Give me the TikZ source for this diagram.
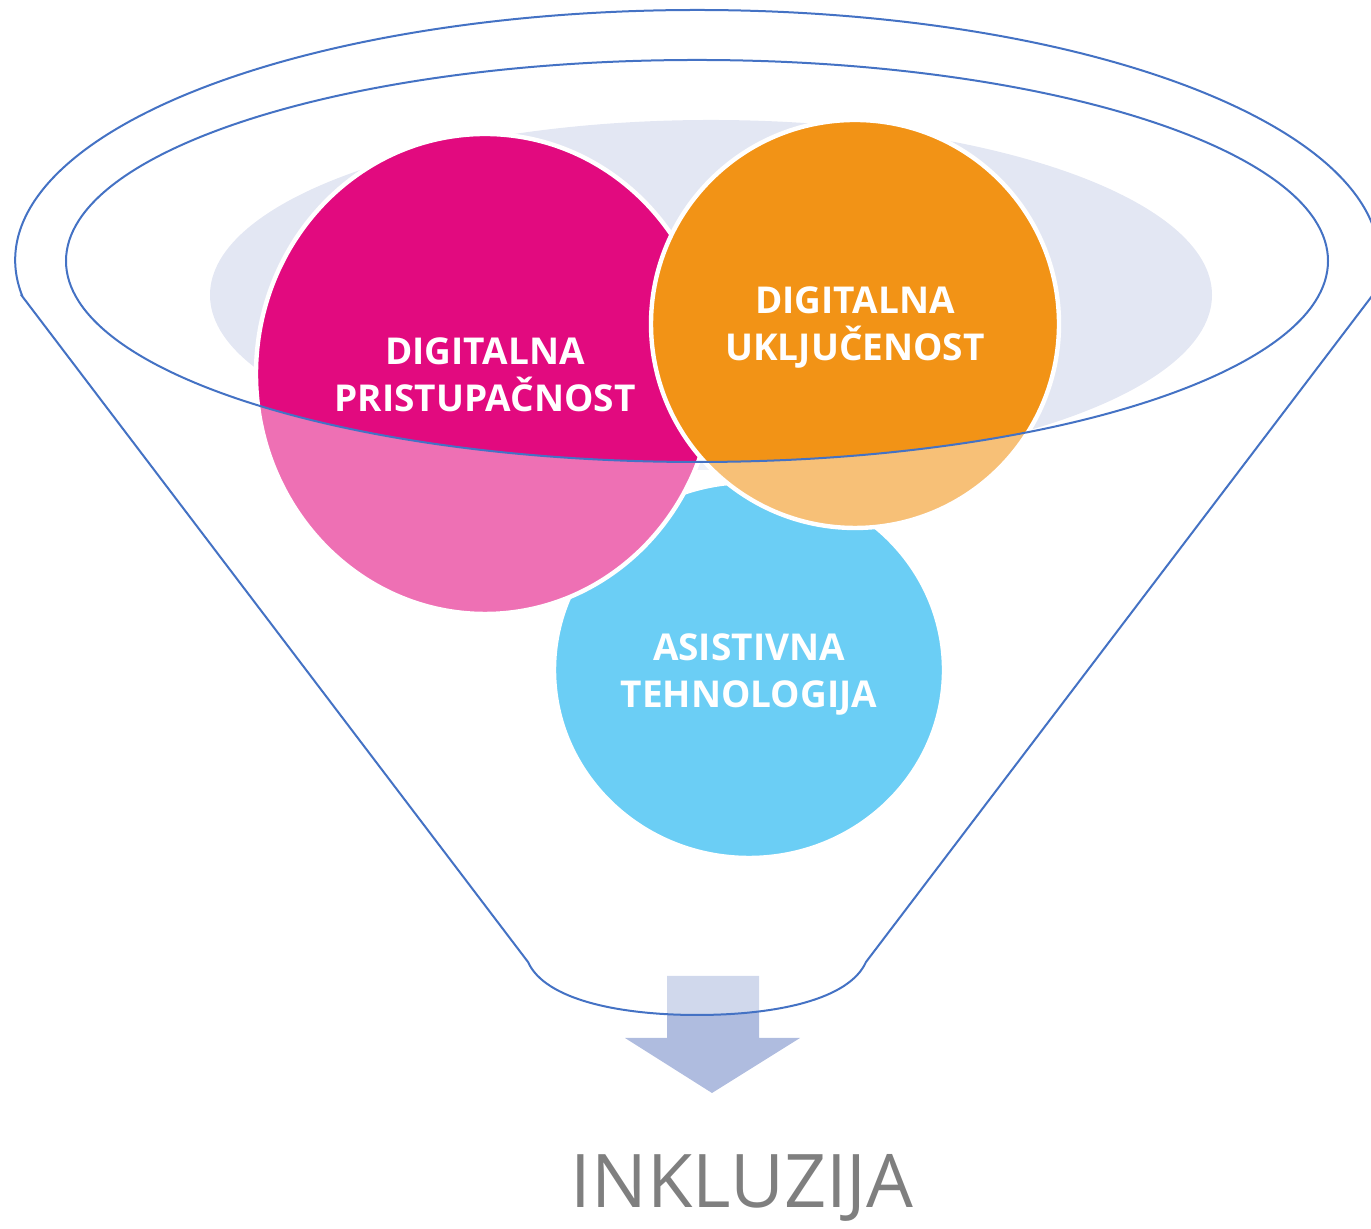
\documentclass[tikz,border=0pt]{standalone}
\usepackage{fontspec}
\setmainfont{Open Sans}
\usetikzlibrary{shapes.geometric}
\definecolor{rim}{HTML}{4472C4}
\definecolor{haze}{HTML}{E3E7F3}
\definecolor{magentafill}{HTML}{E20A7F}
\definecolor{orangefill}{HTML}{F29316}
\definecolor{skyfill}{HTML}{00ABEE}
\definecolor{arrowfill}{HTML}{AFBCDF}
\definecolor{caption}{HTML}{7F7F7F}
\begin{document}
\begin{tikzpicture}[x=0.5pt,y=0.5pt,
  bubble/.style={ellipse, inner sep=0pt, draw=white, line width=2.2pt},
  bubbletext/.style={inner sep=0pt, text=white, align=center,
    font=\bfseries\fontsize{18.5}{23.5}\selectfont},
  funnelline/.style={draw=rim, line width=1pt},
  veil/.style={fill=white, fill opacity=0.42, even odd rule}
]
\useasboundingbox (0,0) rectangle (1371,1229);
\clip (0,0) rectangle (1371,1229);

% soft backdrop behind the bubbles
\fill[haze] (711,934) ellipse [x radius=501, y radius=175];

% the three bubbles, back to front
\node[bubble, fill=skyfill, minimum width=195pt, minimum height=188pt]
  (asist) at (749,559) {};
\node[bubble, fill=magentafill, minimum width=229pt, minimum height=240pt]
  (pristup) at (485,855) {};
\node[bubble, fill=orangefill, minimum width=204pt, minimum height=204pt]
  (ukljuc) at (855,905) {};

% bubble captions
\node[bubbletext] (asist-t) at ([yshift=-2.5pt]asist.center) {ASISTIVNA\\TEHNOLOGIJA};
\node[bubbletext] (pristup-t) at ([yshift=-0.5pt]pristup.center) {DIGITALNA\\PRISTUPAČNOST};
\node[bubbletext] (ukljuc-t) at ([yshift=-2pt]ukljuc.center) {DIGITALNA\\UKLJUČENOST};

% downward arrow out of the funnel neck
\fill[arrowfill] (667,253) -- (759,253) -- (759,191) -- (800,191)
  -- (712,136) -- (625,191) -- (667,191) -- cycle;

% translucent funnel body (outline minus the mouth)
\path[veil] (22,933) -- (528,267)
  .. controls (545,229) and (620,214) .. (697,214)
  .. controls (775,214) and (849,229) .. (866,267)
  -- (1372,933) arc[start angle=-8.28, end angle=188.28, x radius=682, y radius=250]
  -- cycle
  (697,968) ellipse [x radius=631, y radius=201];

% funnel outlines
\draw[funnelline] (22,933) -- (528,267)
  .. controls (545,229) and (620,214) .. (697,214)
  .. controls (775,214) and (849,229) .. (866,267)
  -- (1372,933) arc[start angle=-8.28, end angle=188.28, x radius=682, y radius=250]
  -- cycle;
\draw[funnelline] (697,968) ellipse [x radius=631, y radius=201];

% result label
\node[text=caption, font=\fontsize{37}{44}\selectfont] (result) at (742,41) {INKLUZIJA};
\end{tikzpicture}
\end{document}
